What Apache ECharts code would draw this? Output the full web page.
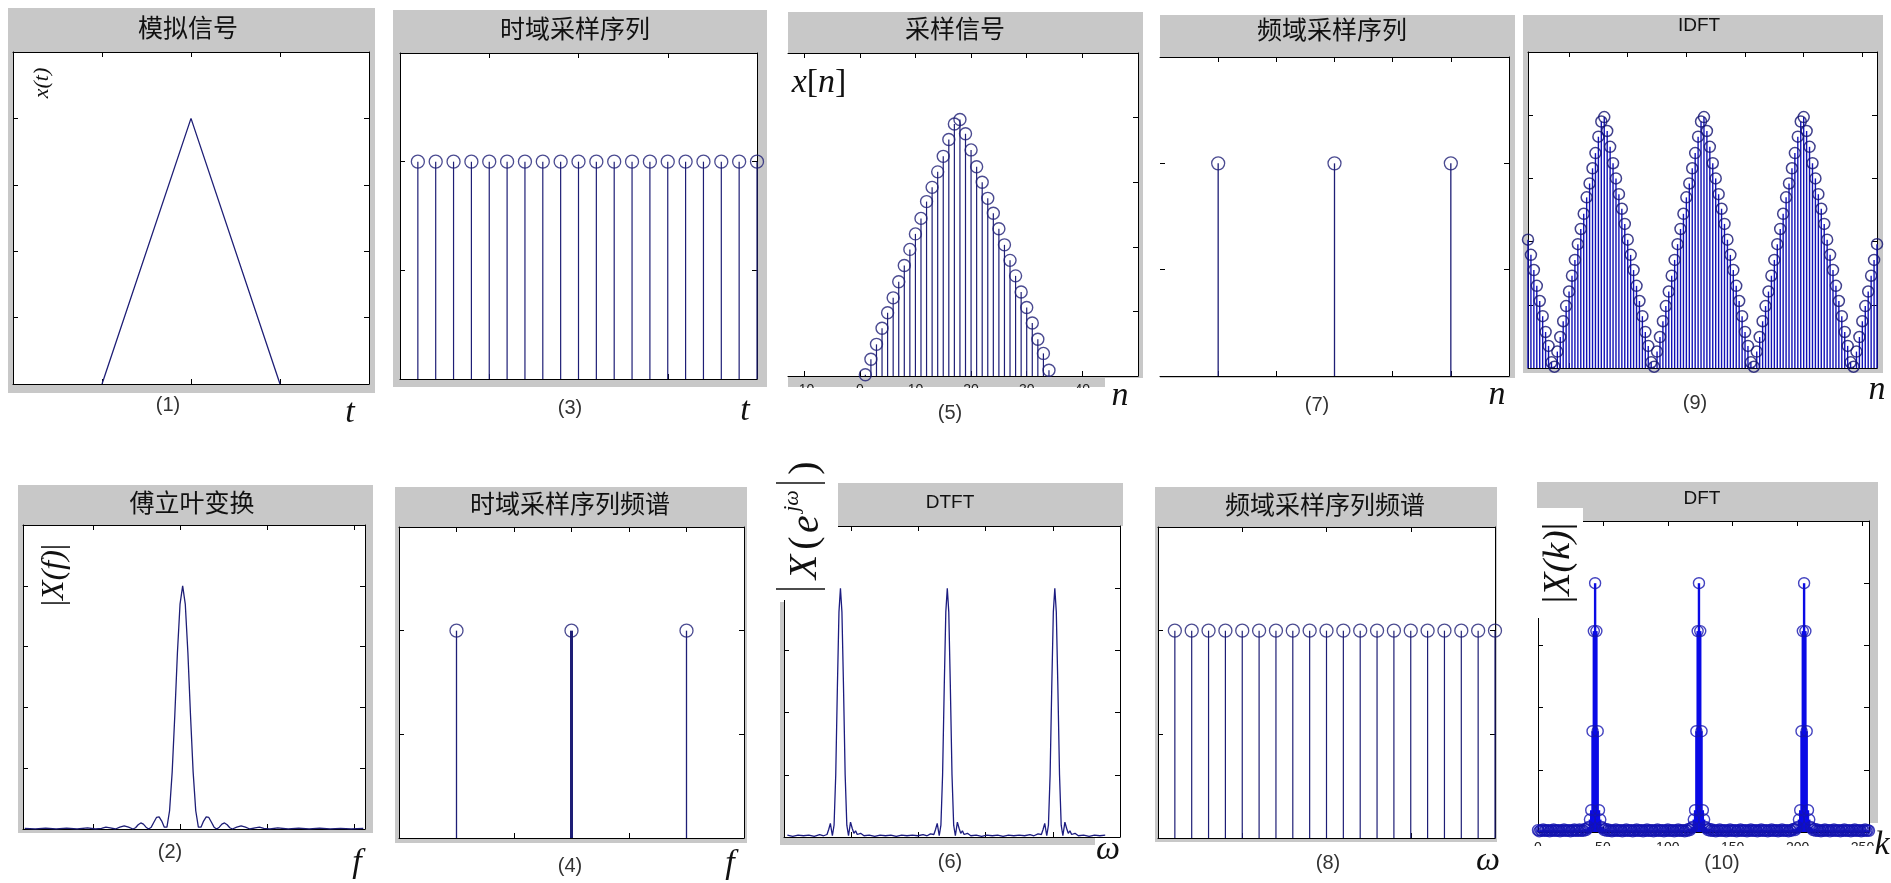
<!DOCTYPE html>
<html>
<head>
<meta charset="utf-8">
<script src="https://cdn.jsdelivr.net/npm/echarts@6/dist/echarts.min.js"></script>
<style>
  html, body { margin: 0; padding: 0; background: #fff; }
  #container { width: 1891px; height: 883px; }
</style>
</head>
<body>
<div id="container"></div>
<script>
// ---- data ----
// (1) analog triangle x(t)
var p1T = [1, 2, 3];
var p1X = [0, 4, 0];
// (3) time-domain sampling sequence
var p3N = [1, 2, 3, 4, 5, 6, 7, 8, 9, 10, 11, 12, 13, 14, 15, 16, 17, 18, 19, 20];
var p3V = [1, 1, 1, 1, 1, 1, 1, 1, 1, 1, 1, 1, 1, 1, 1, 1, 1, 1, 1, 1];
// (5) sampled signal x[n]
var p5N = [1, 2, 3, 4, 5, 6, 7, 8, 9, 10, 11, 12, 13, 14, 15, 16, 17, 18, 19, 20, 21, 22, 23, 24, 25, 26, 27, 28, 29, 30, 31, 32, 33, 34];
var p5X = [0.02, 0.26, 0.49, 0.74, 0.98, 1.21, 1.46, 1.71, 1.96, 2.2, 2.44, 2.7, 2.92, 3.16, 3.4, 3.66, 3.9, 3.97,
           3.75, 3.5, 3.24, 3.0, 2.75, 2.52, 2.28, 2.03, 1.79, 1.55, 1.3, 1.06, 0.82, 0.57, 0.35, 0.09];
// (7) frequency-domain sampling sequence
var p7N = [1, 3, 5];
var p7V = [1, 1, 1];
// (9) IDFT, n runs from p9Start
var p9Start = -14;
var p9X = [2.03, 1.79, 1.55, 1.3, 1.06, 0.82, 0.57, 0.35, 0.09,
  0.02, 0.26, 0.49, 0.74, 0.98, 1.21, 1.46, 1.71, 1.96, 2.2, 2.44, 2.7, 2.92, 3.16, 3.4, 3.66, 3.9, 3.97,
  3.75, 3.5, 3.24, 3.0, 2.75, 2.52, 2.28, 2.03, 1.79, 1.55, 1.3, 1.06, 0.82, 0.57, 0.35, 0.09,
  0.02, 0.26, 0.49, 0.74, 0.98, 1.21, 1.46, 1.71, 1.96, 2.2, 2.44, 2.7, 2.92, 3.16, 3.4, 3.66, 3.9, 3.97,
  3.75, 3.5, 3.24, 3.0, 2.75, 2.52, 2.28, 2.03, 1.79, 1.55, 1.3, 1.06, 0.82, 0.57, 0.35, 0.09,
  0.02, 0.26, 0.49, 0.74, 0.98, 1.21, 1.46, 1.71, 1.96, 2.2, 2.44, 2.7, 2.92, 3.16, 3.4, 3.66, 3.9, 3.97,
  3.75, 3.5, 3.24, 3.0, 2.75, 2.52, 2.28, 2.03, 1.79, 1.55, 1.3, 1.06, 0.82, 0.57, 0.35, 0.09,
  0.02, 0.26, 0.49, 0.74, 0.98, 1.21, 1.46, 1.71, 1.96];
// (2) Fourier transform |X(f)|
var p2F = [-1.78, -1.66, -1.54, -1.42, -1.30, -1.18, -1.06, -0.97, -0.90, -0.85, -0.80, -0.74, -0.69, -0.64, -0.59, -0.54,
  -0.51, -0.48, -0.45, -0.42, -0.39, -0.36, -0.33, -0.30, -0.27, -0.24, -0.21, -0.18, -0.15, -0.12, -0.09, -0.06,
  -0.03, 0.0, 0.03, 0.06, 0.09, 0.12, 0.15, 0.18, 0.21, 0.24, 0.27, 0.30, 0.33, 0.36, 0.39, 0.42,
  0.45, 0.48, 0.51, 0.54, 0.57, 0.60, 0.65, 0.70, 0.75, 0.80, 0.86, 0.91, 0.96, 1.03, 1.12, 1.24,
  1.36, 1.48, 1.60, 1.72, 1.84, 1.96, 2.10];
var p2X = [0.01, 0.0, 0.015, 0.0, 0.015, 0.0, 0.02, 0.0, 0.01, 0.03, 0.02, 0.0, 0.03, 0.05, 0.03, 0.0,
  0.02, 0.07, 0.10, 0.08, 0.03, 0.0, 0.03, 0.11, 0.19, 0.20, 0.13, 0.03, 0.03, 0.30, 0.94, 1.87,
  2.90, 3.70, 4.0, 3.70, 2.90, 1.87, 0.94, 0.30, 0.03, 0.03, 0.13, 0.20, 0.19, 0.11, 0.03, 0.0,
  0.03, 0.08, 0.10, 0.07, 0.02, 0.0, 0.03, 0.05, 0.03, 0.0, 0.02, 0.03, 0.01, 0.0, 0.02, 0.0,
  0.015, 0.0, 0.015, 0.0, 0.01, 0.0, 0.01];
// (4) spectrum of time-domain sampling sequence
var p4F = [1, 3, 5];
var p4V = [1, 1, 1];
// (6) DTFT
var p6W = [0.05, 0.13, 0.21, 0.29, 0.37, 0.45, 0.53, 0.59,
  0.64, 0.665, 0.69, 0.72, 0.745, 0.77, 0.795, 0.818, 0.84, 0.862, 0.885, 0.91, 0.935, 0.96, 0.99, 1.015, 1.04, 1.065, 1.09, 1.14, 1.19,
  1.27, 1.35, 1.43, 1.51, 1.59, 1.67, 1.75, 1.83, 1.91, 1.99, 2.07, 2.13, 2.18,
  2.23, 2.255, 2.28, 2.31, 2.335, 2.36, 2.385, 2.408, 2.43, 2.452, 2.475, 2.5, 2.525, 2.55, 2.58, 2.605, 2.63, 2.655, 2.68, 2.73, 2.78,
  2.86, 2.94, 3.02, 3.1, 3.18, 3.26, 3.34, 3.42, 3.5, 3.58, 3.66, 3.72, 3.78,
  3.83, 3.855, 3.88, 3.91, 3.935, 3.96, 3.985, 4.008, 4.03, 4.052, 4.075, 4.1, 4.125, 4.15, 4.18, 4.205, 4.23, 4.255, 4.28, 4.33, 4.38,
  4.46, 4.54, 4.62, 4.7, 4.78];
var p6X = [0.03, 0.01, 0.03, 0.02, 0.03, 0.01, 0.04, 0.02,
  0.04, 0.12, 0.22, 0.02, 0.19, 1.0, 2.44, 3.62, 4.0, 3.62, 2.44, 1.0, 0.19, 0.02, 0.24, 0.14, 0.06, 0.1, 0.04, 0.06, 0.02,
  0.03, 0.01, 0.03, 0.02, 0.03, 0.01, 0.03, 0.02, 0.03, 0.02, 0.04, 0.02, 0.05,
  0.04, 0.12, 0.22, 0.02, 0.19, 1.0, 2.44, 3.62, 4.0, 3.62, 2.44, 1.0, 0.19, 0.02, 0.24, 0.14, 0.06, 0.1, 0.04, 0.06, 0.02,
  0.03, 0.01, 0.03, 0.02, 0.03, 0.01, 0.03, 0.02, 0.03, 0.02, 0.04, 0.02, 0.05,
  0.04, 0.12, 0.22, 0.02, 0.19, 1.0, 2.44, 3.62, 4.0, 3.62, 2.44, 1.0, 0.19, 0.02, 0.24, 0.14, 0.06, 0.1, 0.04, 0.06, 0.02,
  0.03, 0.01, 0.03, 0.02, 0.03];
// (8) spectrum of frequency-domain sampling sequence
var p8W = [1, 2, 3, 4, 5, 6, 7, 8, 9, 10, 11, 12, 13, 14, 15, 16, 17, 18, 19, 20];
var p8V = [1, 1, 1, 1, 1, 1, 1, 1, 1, 1, 1, 1, 1, 1, 1, 1, 1, 1, 1, 1];
// (10) DFT |X(k)|, k = 0..255
var p10X = [
  0.03, 0.01, 0.03, 0.02, 0.04, 0.02, 0.03, 0.02, 0.03, 0.01, 0.03, 0.02, 0.04, 0.02, 0.03, 0.02,
  0.03, 0.01, 0.03, 0.02, 0.04, 0.02, 0.03, 0.02, 0.03, 0.01, 0.03, 0.02, 0.04, 0.02, 0.03, 0.02,
  0.04, 0.02, 0.03, 0.02, 0.05, 0.03, 0.06, 0.08, 0.2, 0.35, 1.62, 3.23, 4.0, 3.23, 1.62, 0.35,
  0.2, 0.08, 0.06, 0.03, 0.05, 0.02, 0.04, 0.02, 0.03, 0.01, 0.03, 0.02, 0.04, 0.02, 0.03, 0.02,
  0.03, 0.01, 0.03, 0.02, 0.04, 0.02, 0.03, 0.02, 0.03, 0.01, 0.03, 0.02, 0.04, 0.02, 0.03, 0.02,
  0.03, 0.01, 0.03, 0.02, 0.04, 0.02, 0.03, 0.02, 0.03, 0.01, 0.03, 0.02, 0.04, 0.02, 0.03, 0.02,
  0.03, 0.01, 0.03, 0.02, 0.04, 0.02, 0.03, 0.02, 0.03, 0.01, 0.03, 0.02, 0.04, 0.02, 0.03, 0.02,
  0.03, 0.01, 0.03, 0.02, 0.05, 0.03, 0.06, 0.08, 0.2, 0.35, 1.62, 3.23, 4.0, 3.23, 1.62, 0.35,
  0.2, 0.08, 0.06, 0.03, 0.05, 0.02, 0.04, 0.02, 0.03, 0.01, 0.03, 0.02, 0.04, 0.02, 0.03, 0.02,
  0.03, 0.01, 0.03, 0.02, 0.04, 0.02, 0.03, 0.02, 0.03, 0.01, 0.03, 0.02, 0.04, 0.02, 0.03, 0.02,
  0.03, 0.01, 0.03, 0.02, 0.04, 0.02, 0.03, 0.02, 0.03, 0.01, 0.03, 0.02, 0.04, 0.02, 0.03, 0.02,
  0.03, 0.01, 0.03, 0.02, 0.04, 0.02, 0.03, 0.02, 0.03, 0.01, 0.03, 0.02, 0.04, 0.02, 0.03, 0.02,
  0.03, 0.01, 0.03, 0.02, 0.04, 0.05, 0.03, 0.06, 0.08, 0.2, 0.35, 1.62, 3.23, 4.0, 3.23, 1.62,
  0.35, 0.2, 0.08, 0.06, 0.03, 0.05, 0.02, 0.04, 0.02, 0.03, 0.01, 0.03, 0.02, 0.04, 0.02, 0.03,
  0.03, 0.01, 0.03, 0.02, 0.04, 0.02, 0.03, 0.02, 0.03, 0.01, 0.03, 0.02, 0.04, 0.02, 0.03, 0.02,
  0.03, 0.01, 0.03, 0.02, 0.04, 0.02, 0.03, 0.02, 0.03, 0.01, 0.03, 0.02, 0.04, 0.02, 0.03, 0.02];

// ---- chart ----
var dom = document.getElementById('container');
var myChart = echarts.init(dom, null, { renderer: 'canvas' });

var NAVY = '#1e1e76';
var GRAY = '#c8c8c8';
var grids = [], xAxes = [], yAxes = [], series = [], gfx = [];

function pairs(xs, ys) { return xs.map(function (x, i) { return [x, ys[i]]; }); }

// one MATLAB-like box: grid + bottom/top x axes + left/right y axes
function addPanel(rect, xr, xt, yr, yt, o) {
  o = o || {};
  var gi = grids.length;
  grids.push({ left: rect[0], top: rect[1], width: rect[2] - rect[0], height: rect[3] - rect[1] });
  function line(show) { return { show: show !== false, onZero: false, lineStyle: { color: '#000', width: 1 } }; }
  function tick(vals, show) { return { show: show !== false, inside: true, length: 5, customValues: vals, lineStyle: { color: '#000' } }; }
  var lab = o.xLabels ? { show: true, customValues: xt, margin: o.labelMargin || 5, fontSize: 14, color: '#222', fontFamily: 'Liberation Sans' } : { show: false };
  xAxes.push({ type: 'value', gridIndex: gi, position: 'bottom', min: xr[0], max: xr[1], z: 3,
    axisLine: line(), axisTick: tick(xt), axisLabel: lab, splitLine: { show: false } });
  xAxes.push({ type: 'value', gridIndex: gi, position: 'top', min: xr[0], max: xr[1], z: 3,
    axisLine: line(), axisTick: tick(xt), axisLabel: { show: false }, splitLine: { show: false } });
  yAxes.push({ type: 'value', gridIndex: gi, position: 'left', min: yr[0], max: yr[1], z: 3,
    axisLine: line(o.leftLine), axisTick: tick(yt, o.leftTick), axisLabel: { show: false }, splitLine: { show: false } });
  yAxes.push({ type: 'value', gridIndex: gi, position: 'right', min: yr[0], max: yr[1], z: 3,
    axisLine: line(), axisTick: tick(yt), axisLabel: { show: false }, splitLine: { show: false } });
  gfx.push(rectEl(rect[0], rect[1], rect[2] - rect[0], rect[3] - rect[1], '#fff', 1));
  return 2 * gi;
}

function stems(ax, data, color, width, wideIdx) {
  return { type: 'custom', xAxisIndex: ax, yAxisIndex: ax, z: 4, data: data, encode: { x: 0, y: 1 },
    renderItem: function (params, api) {
      var p = api.coord([api.value(0), api.value(1)]);
      var b = api.coord([api.value(0), 0]);
      return { type: 'line', shape: { x1: b[0], y1: b[1], x2: p[0], y2: p[1] },
        style: { stroke: color, lineWidth: params.dataIndex === wideIdx ? 3 : width } };
    } };
}
function circles(ax, data, color, size, bw) {
  return { type: 'scatter', xAxisIndex: ax, yAxisIndex: ax, z: 5, data: data, symbol: 'circle', symbolSize: size,
    itemStyle: { color: 'rgba(0,0,0,0)', borderColor: color, borderWidth: bw } };
}
function curve(ax, data, color, width) {
  return { type: 'line', xAxisIndex: ax, yAxisIndex: ax, z: 4, data: data, showSymbol: false,
    lineStyle: { color: color, width: width } };
}
function rectEl(x, y, w, h, fill, z) {
  return { type: 'rect', shape: { x: x, y: y, width: w, height: h }, style: { fill: fill }, z: z, silent: true };
}
function lineEl(x1, y1, x2, y2) {
  return { type: 'line', shape: { x1: x1, y1: y1, x2: x2, y2: y2 }, style: { stroke: '#111', lineWidth: 1.5 }, z: 11 };
}
function textEl(x, y, s, font, extra) {
  var el = { type: 'text', x: x, y: y, z: 11, style: { text: s, font: font, fill: '#111', align: 'center', verticalAlign: 'middle' } };
  if (extra) { for (var k in extra) el[k] = extra[k]; }
  return el;
}

var CJK = '25px "Noto Sans CJK SC"';
var SANS = '19px "Liberation Sans"';
var NUM = '20px "Liberation Sans"';
var ITAL = 'italic 34px "Liberation Serif"';
var ROT = Math.PI / 2;

// gray figure backgrounds (drawn first)
gfx.push(rectEl(8, 8, 367, 385, GRAY, 0));
gfx.push(rectEl(393, 10, 374, 377, GRAY, 0));
gfx.push(rectEl(788, 12, 355, 375, GRAY, 0));
gfx.push(rectEl(1160, 15, 355, 363, GRAY, 0));
gfx.push(rectEl(1523, 15, 360, 358, GRAY, 0));
gfx.push(rectEl(18, 485, 355, 348, GRAY, 0));
gfx.push(rectEl(395, 487, 352, 356, GRAY, 0));
gfx.push(rectEl(838, 483, 285, 43, GRAY, 0));
gfx.push(rectEl(780, 602, 4, 243, GRAY, 0));
gfx.push(rectEl(780, 837, 315, 8, GRAY, 0));
gfx.push(rectEl(1155, 487, 342, 355, GRAY, 0));
gfx.push(rectEl(1537, 482, 341, 39, GRAY, 0));
gfx.push(rectEl(1869, 521, 9, 302, GRAY, 0));

// top row
var a1 = addPanel([13, 52, 369, 384], [0, 4], [1, 2, 3], [0, 5], [1, 2, 3, 4]);
series.push(curve(a1, pairs(p1T, p1X), NAVY, 1.3));

var a3 = addPanel([400, 53, 757, 379], [0, 20], [5, 10, 15], [0, 1.5], [0.5, 1]);
series.push(stems(a3, pairs(p3N, p3V), NAVY, 1.2));
series.push(circles(a3, pairs(p3N, p3V), NAVY, 13, 1.3));

var a5 = addPanel([788, 53, 1138, 376], [-12.9, 50], [-10, 0, 10, 20, 30, 40], [0, 5], [1, 2, 3, 4],
  { leftLine: false, leftTick: false, xLabels: true, labelMargin: 7 });
series.push(stems(a5, pairs(p5N, p5X), NAVY, 1.2));
series.push(circles(a5, pairs(p5N, p5X), NAVY, 12, 1.4));

var a7 = addPanel([1160, 57, 1509, 376], [0, 6], [1, 2, 3, 4, 5], [0, 1.5], [0.5, 1], { leftLine: false });
series.push(stems(a7, pairs(p7N, p7V), NAVY, 1.3));
series.push(circles(a7, pairs(p7N, p7V), NAVY, 13, 1.3));

var a9 = addPanel([1528, 52, 1877, 368], [-14, 105], [0, 20, 40, 60, 80, 100], [0, 5], [1, 2, 3, 4]);
var p9Data = p9X.map(function (v, i) { return [p9Start + i, v]; });
series.push(stems(a9, p9Data, '#1212b8', 1.4));
series.push(circles(a9, p9Data, '#121270', 11, 1.5));

// bottom row
var a2 = addPanel([23, 525, 365, 829], [-1.8, 2.12], [-1, 0, 1, 2], [0, 5], [1, 2, 3, 4]);
series.push(curve(a2, pairs(p2F, p2X), NAVY, 1.3));

var a4 = addPanel([399, 527, 744, 838], [0, 6], [1, 2, 3, 4, 5], [0, 1.5], [0.5, 1]);
series.push(stems(a4, pairs(p4F, p4V), NAVY, 1.3, 1));
series.push(circles(a4, pairs(p4F, p4V), NAVY, 13, 1.3));

var a6 = addPanel([784, 526, 1120, 837], [0, 5], [1, 2, 3, 4], [0, 5], [1, 2, 3, 4]);
series.push(curve(a6, pairs(p6W, p6X), '#1c1c80', 1.3));

var a8 = addPanel([1158, 527, 1495, 838], [0, 20], [5, 10, 15], [0, 1.5], [0.5, 1]);
series.push(stems(a8, pairs(p8W, p8V), NAVY, 1.2));
series.push(circles(a8, pairs(p8W, p8V), NAVY, 13, 1.3));

var a10 = addPanel([1538, 521, 1869, 832], [0, 255], [0, 50, 100, 150, 200, 250], [0, 5], [1, 2, 3, 4],
  { xLabels: true, labelMargin: 9 });
var p10Data = p10X.map(function (v, k) { return [k, v]; });
series.push(stems(a10, p10Data, '#0a0ae6', 2.4));
series.push(circles(a10, p10Data, '#1414b0', 11, 1.4));

// covers that crop tick labels / label boxes
gfx.push(rectEl(788, 388, 360, 16, '#fff', 10));
gfx.push(rectEl(1105, 378, 40, 10, '#fff', 10));
gfx.push(rectEl(1528, 846, 352, 12, '#fff', 10));
gfx.push(rectEl(776, 478, 62, 122, '#fff', 10));
gfx.push(rectEl(1537, 508, 46, 110, '#fff', 10));

// titles
gfx.push(textEl(188, 27, '模拟信号', CJK));
gfx.push(textEl(575, 28, '时域采样序列', CJK));
gfx.push(textEl(955, 28, '采样信号', CJK));
gfx.push(textEl(1332, 29, '频域采样序列', CJK));
gfx.push(textEl(1699, 26, 'IDFT', SANS));
gfx.push(textEl(192, 502, '傅立叶变换', CJK));
gfx.push(textEl(570, 503, '时域采样序列频谱', CJK));
gfx.push(textEl(950, 503, 'DTFT', SANS));
gfx.push(textEl(1325, 504, '频域采样序列频谱', CJK));
gfx.push(textEl(1702, 499, 'DFT', SANS));

// panel numbers
[['(1)', 168, 405], ['(3)', 570, 408], ['(5)', 950, 413], ['(7)', 1317, 405], ['(9)', 1695, 403],
 ['(2)', 170, 852], ['(4)', 570, 866], ['(6)', 950, 862], ['(8)', 1328, 863], ['(10)', 1722, 863]]
  .forEach(function (d) { gfx.push(textEl(d[1], d[2], d[0], NUM, { style: { text: d[0], font: NUM, fill: '#333', align: 'center', verticalAlign: 'middle' } })); });

// axis letters
[['t', 350, 413], ['t', 745, 411], ['n', 1120, 396], ['n', 1497, 395], ['n', 1877, 390],
 ['f', 357, 863], ['f', 730, 864], ['ω', 1108, 850], ['ω', 1488, 861], ['k', 1882, 845]]
  .forEach(function (d) { gfx.push(textEl(d[1], d[2], d[0], ITAL)); });

// y labels
gfx.push(textEl(42, 83, 'x(t)', 'italic 22px "Liberation Serif"', { rotation: ROT }));
gfx.push(textEl(819, 83, '', '', { style: { text: '{i|x}{r|[}{i|n}{r|]}', align: 'center', verticalAlign: 'middle', fill: '#111',
  rich: { i: { fontSize: 34, fontStyle: 'italic', fontFamily: 'Liberation Serif', fill: '#111' }, r: { fontSize: 34, fontFamily: 'Liberation Serif', fill: '#111' } } } }));
gfx.push(textEl(55, 575, '', '', { rotation: ROT, style: { text: '{r||}{i|X(f)}{r||}', align: 'center', verticalAlign: 'middle', fill: '#111',
  rich: { i: { fontSize: 32, fontStyle: 'italic', fontFamily: 'Liberation Serif', fill: '#111' }, r: { fontSize: 32, fontFamily: 'Liberation Serif', fill: '#111' } } } }));
gfx.push(textEl(1559, 563, '', '', { rotation: ROT, style: { text: '{r||}{i|X(k)}{r||}', align: 'center', verticalAlign: 'middle', fill: '#111',
  rich: { i: { fontSize: 38, fontStyle: 'italic', fontFamily: 'Liberation Serif', fill: '#111' }, r: { fontSize: 38, fontFamily: 'Liberation Serif', fill: '#111' } } } }));
// |X(e^{jω})| built from pieces
gfx.push(lineEl(776, 483, 825, 483));
gfx.push(lineEl(776, 589, 825, 589));
gfx.push(textEl(805, 567, 'X', 'italic 40px "Liberation Serif"', { rotation: ROT }));
gfx.push(textEl(805, 543, '(', '40px "Liberation Serif"', { rotation: ROT }));
gfx.push(textEl(807, 524, 'e', 'italic 40px "Liberation Serif"', { rotation: ROT }));
gfx.push(textEl(792, 501, 'jω', 'italic 22px "Liberation Serif"', { rotation: ROT }));
gfx.push(textEl(805, 468, ')', '40px "Liberation Serif"', { rotation: ROT }));

var option = {
  animation: false,
  backgroundColor: '#fff',
  grid: grids,
  xAxis: xAxes,
  yAxis: yAxes,
  series: series,
  graphic: { elements: gfx }
};
myChart.setOption(option);
window.addEventListener('resize', myChart.resize);
</script>
</body>
</html>
